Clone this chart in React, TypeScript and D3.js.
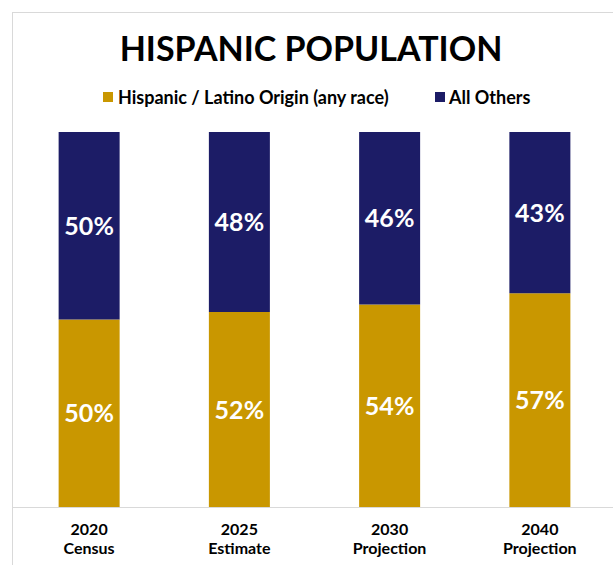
import React from "react";
import * as d3 from "d3";

const categories = [["2020", "Census"], ["2025", "Estimate"], ["2030", "Projection"], ["2040", "Projection"]];
const hispanic = [50, 52, 54, 57];
const others = [50, 48, 46, 43];
const seriesNames = ["Hispanic / Latino Origin (any race)", "All Others"];
const colors = ["#C99700", "#1C1C66"];

const W = 613, H = 565;
const FONT = "Lato, 'Open Sans', sans-serif";

export default function App() {
  const plot = { left: 14, right: 615, top: 132, bottom: 507 };
  const x = d3.scaleBand<number>().domain(d3.range(categories.length)).range([plot.left, plot.right]).paddingInner(0.594).paddingOuter(0.297);
  const y = d3.scaleLinear().domain([0, 100]).range([plot.bottom, plot.top]);
  const rows = categories.map((c, i) => ({ i, h: hispanic[i], o: others[i] }));
  const stack = d3.stack<any>().keys(["h", "o"])(rows);

  return (
    <div style={{ position: "absolute", left: 0, top: 0 }}>
      <svg width={W} height={H} style={{ display: "block", background: "#fff" }}>
        <rect x={12.5} y={12.5} width={W + 10} height={H + 10} fill="#fff" stroke="#d9d9d9" strokeWidth={1} />
        <text x={311} y={61} textAnchor="middle" fontFamily={FONT} fontWeight={700} fontSize={34} fill="#000">HISPANIC POPULATION</text>
        <g fontFamily={FONT} fontWeight={700} fontSize={18} fill="#000">
          <rect x={103} y={92} width={10} height={10} fill={colors[0]} />
          <text x={118} y={104}>{seriesNames[0]}</text>
          <rect x={435} y={92} width={10} height={10} fill={colors[1]} />
          <text x={449} y={104}>{seriesNames[1]}</text>
        </g>
        {stack.map((s, si) => (
          <g key={si} fill={colors[si]}>
            {s.map((d, i) => (
              <rect key={i} x={x(i)} y={y(d[1])} width={x.bandwidth()} height={y(d[0]) - y(d[1])} />
            ))}
          </g>
        ))}
        {stack.map((s, si) => (
          <g key={"l" + si} fontFamily={FONT} fontSize={25} fontWeight={700} fill="#fff" textAnchor="middle">
            {s.map((d, i) => (
              <text key={i} x={x(i)! + x.bandwidth() / 2} y={(y(d[0]) + y(d[1])) / 2} dy="0.36em">
                {Math.round(d[1] - d[0])}%
              </text>
            ))}
          </g>
        ))}
        <line x1={13} x2={W} y1={507.5} y2={507.5} stroke="#d9d9d9" strokeWidth={1} />
        <g fontFamily={FONT} fontWeight={700} fontSize={16} fill="#000" textAnchor="middle">
          {categories.map((c, i) => (
            <text key={i} x={x(i)! + x.bandwidth() / 2} y={535}>
              <tspan x={x(i)! + x.bandwidth() / 2}>{c[0]}</tspan>
              <tspan x={x(i)! + x.bandwidth() / 2} dy={19}>{c[1]}</tspan>
            </text>
          ))}
        </g>
      </svg>
    </div>
  );
}
